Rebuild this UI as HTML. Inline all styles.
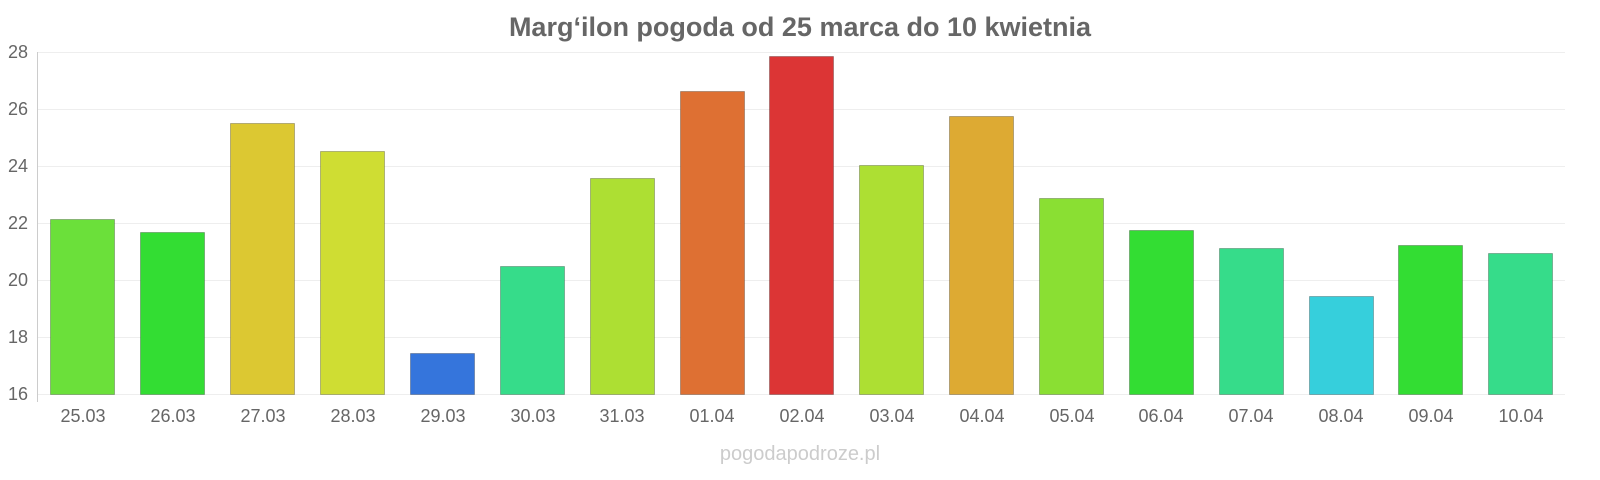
<!DOCTYPE html>
<html><head><meta charset="utf-8"><style>
html,body{margin:0;padding:0;background:#fff;width:1600px;height:480px;overflow:hidden}
svg{display:block}
text{font-family:"Liberation Sans",sans-serif}
</style></head><body>
<svg width="1600" height="480" viewBox="0 0 1600 480" xmlns="http://www.w3.org/2000/svg">
<text x="800" y="36" text-anchor="middle" font-size="27" font-weight="bold" fill="#666">Marg‘ilon pogoda od 25 marca do 10 kwietnia</text>
<g stroke="#eee" stroke-width="1">
<line x1="38" x2="1565" y1="52.5" y2="52.5"/><line x1="38" x2="1565" y1="109.5" y2="109.5"/>
<line x1="38" x2="1565" y1="166.5" y2="166.5"/><line x1="38" x2="1565" y1="223.5" y2="223.5"/>
<line x1="38" x2="1565" y1="280.5" y2="280.5"/><line x1="38" x2="1565" y1="337.5" y2="337.5"/>
<line x1="38" x2="1565" y1="394.5" y2="394.5"/>
</g>
<line x1="37.5" x2="37.5" y1="52" y2="402" stroke="#ccc"/>
<g font-size="18" fill="#666" text-anchor="end">
<text x="28" y="58">28</text><text x="28" y="115">26</text><text x="28" y="172">24</text>
<text x="28" y="229">22</text><text x="28" y="286">20</text><text x="28" y="343">18</text><text x="28" y="400">16</text>
</g>
<g stroke-opacity="0.25" stroke="#000">
<rect x="50.5" y="219.5" width="64" height="175" fill="#6be03a"/>
<rect x="140.5" y="232.5" width="64" height="162" fill="#33dd33"/>
<rect x="230.5" y="123.5" width="64" height="271" fill="#dcc832"/>
<rect x="320.5" y="151.5" width="64" height="243" fill="#cfdd33"/>
<rect x="410.5" y="353.5" width="64" height="41" fill="#3575dc"/>
<rect x="500.5" y="266.5" width="64" height="128" fill="#36dc8a"/>
<rect x="590.5" y="178.5" width="64" height="216" fill="#addf33"/>
<rect x="680.5" y="91.5" width="64" height="303" fill="#de7033"/>
<rect x="769.5" y="56.5" width="64" height="338" fill="#dc3535"/>
<rect x="859.5" y="165.5" width="64" height="229" fill="#addf33"/>
<rect x="949.5" y="116.5" width="64" height="278" fill="#ddaa33"/>
<rect x="1039.5" y="198.5" width="64" height="196" fill="#8adf33"/>
<rect x="1129.5" y="230.5" width="64" height="164" fill="#33dd33"/>
<rect x="1219.5" y="248.5" width="64" height="146" fill="#36dc8a"/>
<rect x="1309.5" y="296.5" width="64" height="98" fill="#36cfdc"/>
<rect x="1398.5" y="245.5" width="64" height="149" fill="#33dd33"/>
<rect x="1488.5" y="253.5" width="64" height="141" fill="#36dc8a"/>
</g>
<g font-size="18" fill="#666" text-anchor="middle">
<text x="83" y="422">25.03</text><text x="173" y="422">26.03</text><text x="263" y="422">27.03</text>
<text x="353" y="422">28.03</text><text x="443" y="422">29.03</text><text x="533" y="422">30.03</text>
<text x="622" y="422">31.03</text><text x="712" y="422">01.04</text><text x="802" y="422">02.04</text>
<text x="892" y="422">03.04</text><text x="982" y="422">04.04</text><text x="1072" y="422">05.04</text>
<text x="1161" y="422">06.04</text><text x="1251" y="422">07.04</text><text x="1341" y="422">08.04</text>
<text x="1431" y="422">09.04</text><text x="1521" y="422">10.04</text>
</g>
<text x="800" y="460" text-anchor="middle" font-size="20" fill="#ccc">pogodapodroze.pl</text>
</svg>
</body></html>
